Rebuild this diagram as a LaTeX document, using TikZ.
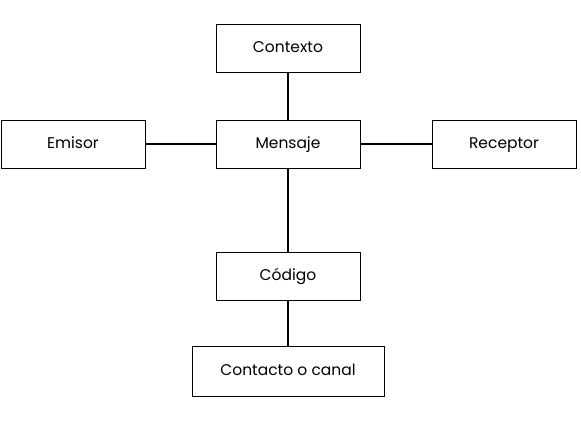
\documentclass[tikz,border=0pt]{standalone}
\usepackage{fontspec}
\setmainfont{Poppins}
\usepackage{tikz}

\tikzset{
  caja/.style={draw, line width=0.9pt, minimum width=144pt, minimum height=48pt,
    inner sep=0pt, text height=11pt, text depth=3pt,
    font=\fontsize{15.5}{18}\selectfont},
  enlace/.style={line width=2pt}
}

\begin{document}
\begin{tikzpicture}[x=1pt, y=-1pt]
\useasboundingbox (0, 0) rectangle (581, 429);

% Draw boxes.
\node[caja] (contexto) at (288, 48) {Contexto};
\node[caja] (emisor) at (73, 144) {Emisor};
\node[caja] (mensaje) at (288, 144) {Mensaje};
\node[caja] (receptor) at (504, 144) {Receptor};
\node[caja] (codigo) at (288, 276) {Código};
\node[caja, minimum width=192pt, minimum height=50pt] (canal) at (288, 371) {Contacto o canal};

% Draw links.
\draw[enlace] (contexto) -- (mensaje);
\draw[enlace] (emisor) -- (mensaje);
\draw[enlace] (mensaje) -- (receptor);
\draw[enlace] (mensaje) -- (codigo);
\draw[enlace] (codigo) -- (canal);

\end{tikzpicture}
\end{document}
